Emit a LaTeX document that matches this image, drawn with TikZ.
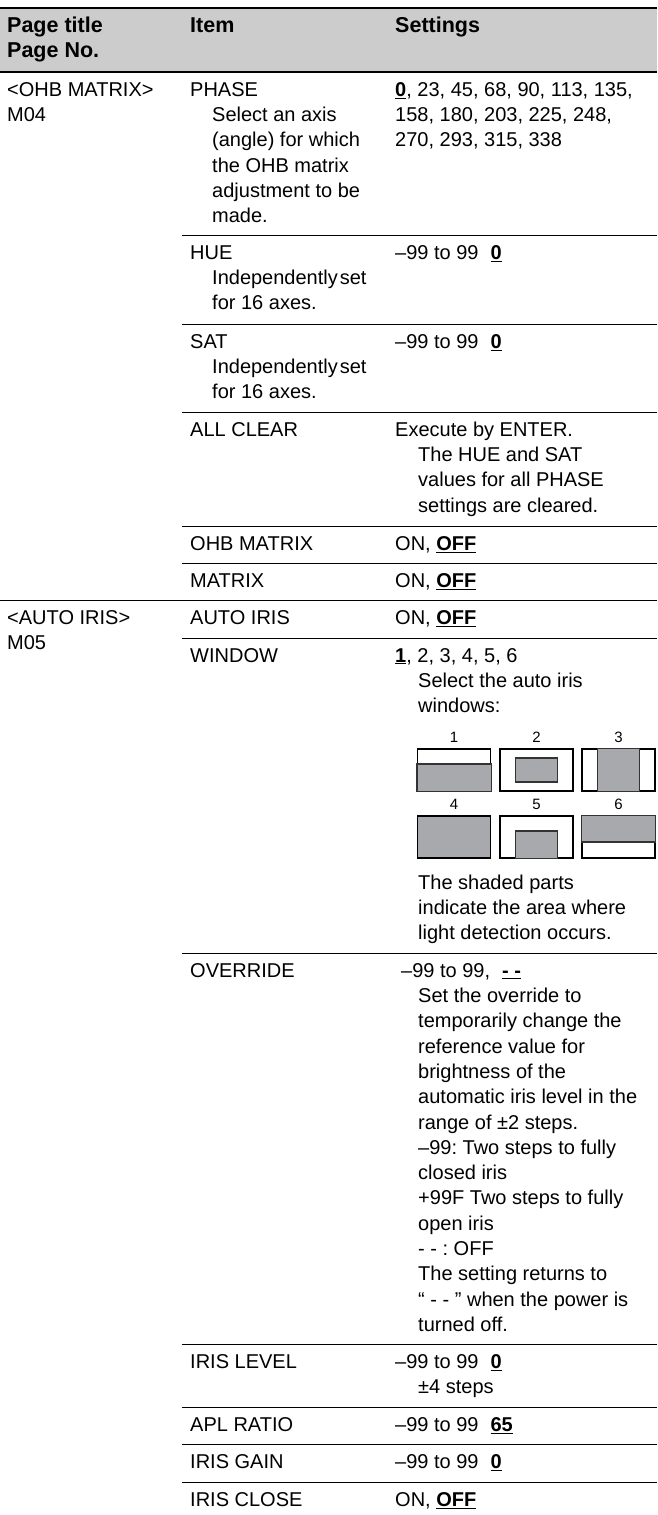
\documentclass[tikz,border=0pt]{standalone}
\usepackage{fontspec}
\setmainfont{Liberation Sans}
\usetikzlibrary{positioning}

\definecolor{headgray}{RGB}{204,204,204}
\definecolor{shadegray}{RGB}{168,169,172}
\newcommand{\dflt}[1]{\underline{\textbf{#1}}}

\begin{document}
\begin{tikzpicture}[x=1pt,y=-1pt]
	  \tikzstyle{cell}=[anchor=north west,inner sep=0pt,align=left,
				  font=\fontsize{20}{25.3}\selectfont\frenchspacing]
	  \tikzstyle{head}=[cell,font=\fontsize{21.5}{24.5}\selectfont\bfseries]
	  \tikzstyle{rule}=[line width=1pt]
	  \tikzstyle{thickrule}=[line width=2pt]
	  \tikzstyle{winbox}=[rectangle,draw=black,line width=1.1pt,inner sep=0pt,
				  minimum width=73pt,minimum height=42pt]
	  \tikzstyle{winshade}=[fill=shadegray,draw=black!80,line width=1.1pt]
	  \tikzstyle{winlabel}=[inner sep=0pt,font=\fontsize{15}{15}\selectfont]

	\useasboundingbox (0,0) rectangle (657,1515);

	% header
	\fill[headgray] (0,8) rectangle (657,72);
	\draw[thickrule] (0,8) -- (657,8);
	\draw[thickrule] (0,72) -- (657,72);
	\node (page_head)[head] at (7,15.3) {\strut Page title\\Page No.};
	\node (item_head)[head] at (190,15.3) {\strut Item};
	\node (set_head)[head] at (395,15.3) {\strut Settings};

	% <OHB MATRIX>
	\node (ohb_title)[cell] at (7,78.3) {\strut <OHB MATRIX>\\M04};
	\node (phase_item)[cell] at (190,78.3) {\strut PHASE};
	\node (phase_desc)[cell] at (212,103.6) {\strut Select an axis\\(angle) for which\\the OHB matrix\\adjustment to be\\made.};
	\node (phase_set)[cell] at (395,78.3) {\strut \dflt{0}, 23, 45, 68, 90, 113, 135,\\158, 180, 203, 225, 248,\\270, 293, 315, 338};
	\draw[rule] (182,235) -- (657,235);

	\node (hue_item)[cell] at (190,241.3) {\strut HUE};
	\node (hue_desc)[cell] at (212,266.6) {\strut Independently\hspace{2pt}set\\for 16 axes.};
	\node (hue_set)[cell] at (395,241.3) {\strut --99 to 99\hspace{12pt}\dflt{0}};
	\draw[rule] (182,324) -- (657,324);

	\node (sat_item)[cell] at (190,330.3) {\strut SAT};
	\node (sat_desc)[cell] at (212,355.6) {\strut Independently\hspace{2pt}set\\for 16 axes.};
	\node (sat_set)[cell] at (395,330.3) {\strut --99 to 99\hspace{12pt}\dflt{0}};
	\draw[rule] (182,412) -- (657,412);

	\node (clear_item)[cell] at (190,418.3) {\strut ALL CLEAR};
	\node (clear_set)[cell] at (395,418.3) {\strut Execute by ENTER.};
	\node (clear_desc)[cell] at (418,443.6) {\strut The HUE and SAT\\values for all PHASE\\settings are cleared.};
	\draw[rule] (182,526) -- (657,526);

	\node (ohbm_item)[cell] at (190,532.3) {\strut OHB MATRIX};
	\node (ohbm_set)[cell] at (395,532.3) {\strut ON, \dflt{OFF}};
	\draw[rule] (182,563) -- (657,563);

	\node (matrix_item)[cell] at (190,569.3) {\strut MATRIX};
	\node (matrix_set)[cell] at (395,569.3) {\strut ON, \dflt{OFF}};
	\draw[rule] (0,600) -- (657,600);

	% <AUTO IRIS>
	\node (iris_title)[cell] at (7,606.3) {\strut <AUTO IRIS>\\M05};
	\node (auto_item)[cell] at (190,606.3) {\strut AUTO IRIS};
	\node (auto_set)[cell] at (395,606.3) {\strut ON, \dflt{OFF}};
	\draw[rule] (182,638) -- (657,638);

	\node (window_item)[cell] at (190,644.3) {\strut WINDOW};
	\node (window_set)[cell] at (395,644.3) {\strut \dflt{1}, 2, 3, 4, 5, 6};
	\node (window_desc)[cell] at (418,669.6) {\strut Select the auto iris\\windows:};

	\node (win1)[winbox] at (454,770) {};
	\node (win2)[winbox] at (536.5,770) {};
	\node (win3)[winbox] at (618.5,770) {};
	\node (win4)[winbox,fill=shadegray] at (454,837) {};
	\node (win5)[winbox] at (536.5,837) {};
	\node (win6)[winbox] at (618.5,837) {};
	\draw[winshade] (win1.south west) rectangle ([yshift=6pt]win1.east);
	\draw[winshade] ([shift={(-21pt,12pt)}]win2.center) rectangle ([shift={(21pt,-12pt)}]win2.center);
	\draw[winshade] ([xshift=-21pt]win3.south) rectangle ([xshift=21pt]win3.north);
	\draw[winshade] ([xshift=-21pt]win5.south) rectangle ([shift={(21pt,6pt)}]win5.center);
	\draw[winshade] (win6.north west) rectangle ([yshift=-5pt]win6.east);
	\node (win1_label)[winlabel,above=5.5pt of win1] {1};
	\node (win2_label)[winlabel,above=5.5pt of win2] {2};
	\node (win3_label)[winlabel,above=5.5pt of win3] {3};
	\node (win4_label)[winlabel,above=5.5pt of win4] {4};
	\node (win5_label)[winlabel,above=5.5pt of win5] {5};
	\node (win6_label)[winlabel,above=5.5pt of win6] {6};

	\node (shaded_desc)[cell] at (418,871.3) {\strut The shaded parts\\indicate the area where\\light detection occurs.};
	\draw[rule] (182,953) -- (657,953);

	\node (override_item)[cell] at (190,959.3) {\strut OVERRIDE};
	\node (override_set)[cell] at (401,959.3) {\strut --99 to 99,\hspace{12pt}\dflt{- -}};
	\node (override_desc)[cell] at (418,984.6) {\strut Set the override to\\temporarily change the\\reference value for\\brightness of the\\automatic iris level in the\\range of ±2 steps.\\--99: Two steps to fully\\closed iris\\+99F Two steps to fully\\open iris\\- - : OFF\\The setting returns to\\“ - - ” when the power is\\turned off.};
	\draw[rule] (182,1344) -- (657,1344);

	\node (level_item)[cell] at (190,1350.3) {\strut IRIS LEVEL};
	\node (level_set)[cell] at (395,1350.3) {\strut --99 to 99\hspace{12pt}\dflt{0}};
	\node (level_desc)[cell] at (418,1375.6) {\strut ±4 steps};
	\draw[rule] (182,1407) -- (657,1407);

	\node (apl_item)[cell] at (190,1413.3) {\strut APL RATIO};
	\node (apl_set)[cell] at (395,1413.3) {\strut --99 to 99\hspace{12pt}\dflt{65}};
	\draw[rule] (182,1444) -- (657,1444);

	\node (gain_item)[cell] at (190,1450.3) {\strut IRIS GAIN};
	\node (gain_set)[cell] at (395,1450.3) {\strut --99 to 99\hspace{12pt}\dflt{0}};
	\draw[rule] (182,1482) -- (657,1482);

	\node (close_item)[cell] at (190,1488.3) {\strut IRIS CLOSE};
	\node (close_set)[cell] at (395,1488.3) {\strut ON, \dflt{OFF}};
\end{tikzpicture}
\end{document}
